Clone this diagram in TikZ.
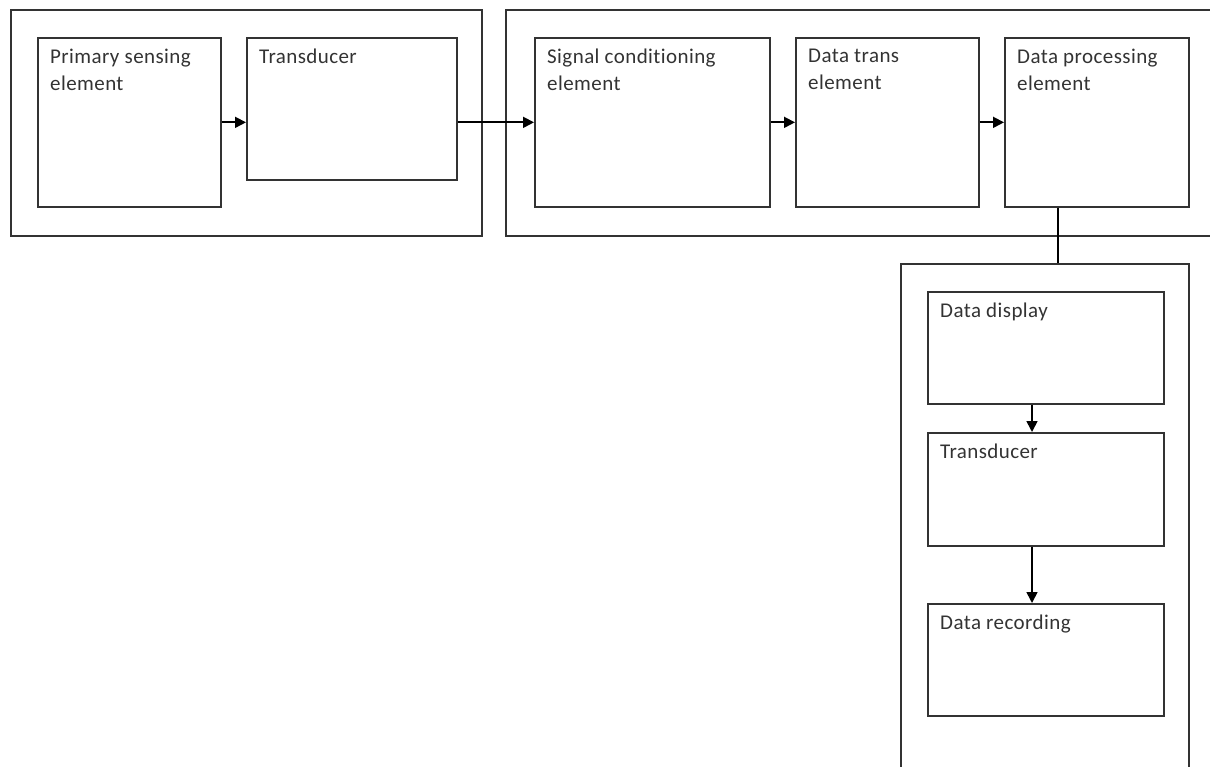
\documentclass[tikz,border=0pt]{standalone}
\usepackage{fontspec}
\setmainfont{Carlito}[Ligatures=NoCommon, LetterSpace=2]
\usetikzlibrary{arrows.meta}
\tikzset{
  blk/.style={draw=black!80, line width=1.7pt, inner sep=0pt, anchor=north west},
  lbl/.style={anchor=north west, inner sep=0pt, xshift=13pt, yshift=-12pt, align=left,
    font=\fontsize{21}{27}\selectfont, text=black!80},
  >={Triangle[length=11pt,width=11pt]}
}
\begin{document}
\begin{tikzpicture}[x=1pt,y=-1pt]
  \path[use as bounding box, clip] (0,0) rectangle (1210,767);
  % outer groups
  \node[blk, minimum width=471pt, minimum height=226pt] (grp1) at (10,9) {};
  \node[blk, minimum width=760pt, minimum height=226pt] (grp2) at (505,9) {};
  \node[blk, minimum width=288pt, minimum height=560pt] (grp3) at (900,263) {};
  % blocks
  \node[blk, minimum width=183pt, minimum height=169pt,
    label={[lbl]north west:Primary sensing\\element}] (pse) at (37,37) {};
  \node[blk, minimum width=210pt, minimum height=142pt,
    label={[lbl]north west:Transducer}] (tr1) at (246,37) {};
  \node[blk, minimum width=235pt, minimum height=169pt,
    label={[lbl]north west:Signal conditioning\\element}] (scond) at (534,37) {};
  \node[blk, minimum width=183pt, minimum height=169pt,
    label={[lbl]north west:Data trans\\element}] (dtrans) at (795,37) {};
  \node[blk, minimum width=184pt, minimum height=169pt,
    label={[lbl]north west:Data processing\\element}] (dproc) at (1004,37) {};
  \node[blk, minimum width=236pt, minimum height=112pt,
    label={[lbl]north west:Data display}] (disp) at (927,291) {};
  \node[blk, minimum width=236pt, minimum height=113pt,
    label={[lbl]north west:Transducer}] (tr2) at (927,432) {};
  \node[blk, minimum width=236pt, minimum height=112pt,
    label={[lbl]north west:Data recording}] (drec) at (927,603) {};
  % connectors
  \begin{scope}[->, line width=1.7pt, draw=black]
    \draw (pse.east) -- (pse.east -| tr1.west);
    \draw (scond.west -| tr1.east) -- (scond.west);
    \draw (scond.east) -- (dtrans.west);
    \draw (dtrans.east) -- (dproc.west);
    \draw[-] ([xshift=54pt]dproc.south west) -- ([xshift=54pt]dproc.south west |- grp3.north);
    \draw ([xshift=105pt]disp.south west) -- ([xshift=105pt]disp.south west |- tr2.north);
    \draw ([xshift=105pt]tr2.south west) -- ([xshift=105pt]tr2.south west |- drec.north);
  \end{scope}
\end{tikzpicture}
\end{document}
